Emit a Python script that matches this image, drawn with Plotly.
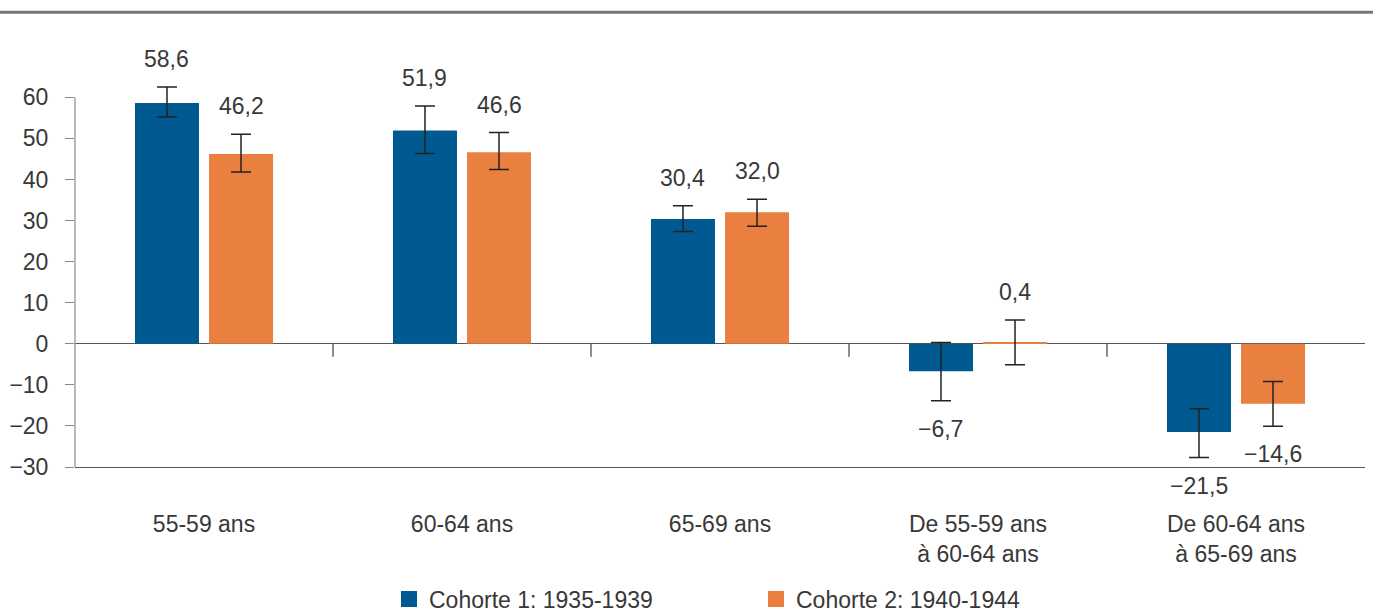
import plotly.graph_objects as go

# Age groups / transitions on the x axis
categories = [
    "55-59 ans",
    "60-64 ans",
    "65-69 ans",
    "De 55-59 ans<br>à 60-64 ans",
    "De 60-64 ans<br>à 65-69 ans",
]

series_names = ["Cohorte 1: 1935-1939", "Cohorte 2: 1940-1944"]

# Values per cohort
cohort1 = [58.6, 51.9, 30.4, -6.7, -21.5]
cohort2 = [46.2, 46.6, 32.0, 0.4, -14.6]

# Confidence interval half-widths (upper / lower)
cohort1_err_plus = [3.9, 6.0, 3.2, 7.0, 5.7]
cohort1_err_minus = [3.4, 5.6, 3.1, 7.2, 6.2]
cohort2_err_plus = [4.8, 4.8, 3.2, 5.4, 5.4]
cohort2_err_minus = [4.4, 4.2, 3.4, 5.5, 5.5]

y_ticks = [-30, -20, -10, 0, 10, 20, 30, 40, 50, 60]

colors = ["#005A91", "#EA803F"]
text_color = "#383838"
font_family = "Liberation Sans, Arial, Helvetica, sans-serif"
font_size = 23

# Bar geometry in category units
BAR_W = 0.248
GAP = 0.039
offsets = [-(GAP / 2 + BAR_W), GAP / 2]

# Plot frame (pixels)
W, H = 1374, 612
M_L, M_R, M_T, M_B = 75, 9, 48, 145
plot_w = W - M_L - M_R
plot_h = H - M_T - M_B


def fmt(v):
    return f"{v:.1f}".replace(".", ",").replace("-", "\u2212")


fig = go.Figure()

series = [
    (cohort1, cohort1_err_plus, cohort1_err_minus),
    (cohort2, cohort2_err_plus, cohort2_err_minus),
]

for k, (vals, ep, em) in enumerate(series):
    fig.add_trace(
        go.Bar(
            x=categories,
            y=vals,
            name=series_names[k],
            legendgroup=f"c{k}",
            showlegend=False,
            width=BAR_W,
            offset=offsets[k],
            marker=dict(color=colors[k], line=dict(width=0)),
            error_y=dict(
                type="data",
                symmetric=False,
                array=ep,
                arrayminus=em,
                color="#222222",
                thickness=1.5,
                width=10,
            ),
            hoverinfo="skip",
        )
    )

# Legend entries with larger square swatches
for k in range(len(series)):
    fig.add_trace(
        go.Scatter(
            x=[None],
            y=[None],
            mode="markers",
            name=series_names[k],
            legendgroup=f"c{k}",
            showlegend=True,
            marker=dict(symbol="square", size=20, color=colors[k], line=dict(width=0)),
            hoverinfo="skip",
        )
    )

# Value labels beyond the end of each error bar
annotations = []
for k, (vals, ep, em) in enumerate(series):
    for i, v in enumerate(vals):
        if v >= 0:
            y_end, shift = v + ep[i], 28
        else:
            y_end, shift = v - em[i], -28
        annotations.append(
            dict(
                x=i + offsets[k] + BAR_W / 2,
                y=y_end,
                xref="x",
                yref="y",
                text=fmt(v),
                showarrow=False,
                yshift=shift,
                xanchor="center",
                yanchor="middle",
                font=dict(family=font_family, size=font_size, color=text_color),
            )
        )

shapes = []
# Category separators hanging below the zero line
for i in range(len(categories) - 1):
    shapes.append(
        dict(
            type="line",
            xref="x",
            x0=i + 0.5,
            x1=i + 0.5,
            yref="y",
            ysizemode="pixel",
            yanchor=0,
            y0=0,
            y1=-13,
            line=dict(color="#666666", width=1.5),
        )
    )

# Vertical value axis, from the lowest to the highest tick
shapes.append(
    dict(
        type="line",
        xref="paper",
        x0=0,
        x1=0,
        yref="y",
        y0=y_ticks[0],
        y1=y_ticks[-1],
        line=dict(color="#8a8a8a", width=1.2),
    )
)

# Rule across the top of the figure
rule_y = 1 + (M_T - 12.3) / plot_h
shapes.append(
    dict(
        type="line",
        xref="paper",
        x0=-M_L / plot_w,
        x1=(W - 1 - M_L) / plot_w,
        yref="paper",
        y0=rule_y,
        y1=rule_y,
        line=dict(color="#777777", width=3),
    )
)

fig.update_layout(
    width=W,
    height=H,
    margin=dict(l=M_L, r=M_R, t=M_T, b=M_B, pad=0, autoexpand=False),
    paper_bgcolor="white",
    plot_bgcolor="white",
    barmode="overlay",
    font=dict(family=font_family, size=font_size, color=text_color),
    separators=", ",
    showlegend=True,
    legend=dict(
        orientation="h",
        x=(389 - M_L) / plot_w,
        xanchor="left",
        y=-(599 - (H - M_B)) / plot_h,
        yanchor="middle",
        font=dict(family=font_family, size=font_size, color=text_color),
        entrywidth=322,
        entrywidthmode="pixels",
        bgcolor="rgba(0,0,0,0)",
        itemclick=False,
        itemdoubleclick=False,
    ),
    annotations=annotations,
    shapes=shapes,
    xaxis=dict(
        type="category",
        range=[-0.5, len(categories) - 0.5],
        automargin=False,
        showgrid=False,
        zeroline=False,
        showline=True,
        linecolor="#555555",
        linewidth=1.3,
        ticks="",
        ticklabelstandoff=36,
        tickfont=dict(family=font_family, size=font_size, color=text_color),
        fixedrange=True,
    ),
    yaxis=dict(
        range=[-30, 72],
        automargin=False,
        tickmode="array",
        tickvals=y_ticks,
        showgrid=False,
        showline=False,
        zeroline=True,
        zerolinecolor="#555555",
        zerolinewidth=1.3,
        ticks="outside",
        ticklen=9,
        tickwidth=1.2,
        tickcolor="#8a8a8a",
        ticklabelstandoff=12,
        tickfont=dict(family=font_family, size=font_size, color=text_color),
        fixedrange=True,
    ),
)

fig.write_html("out.html", config={"displayModeBar": False})
